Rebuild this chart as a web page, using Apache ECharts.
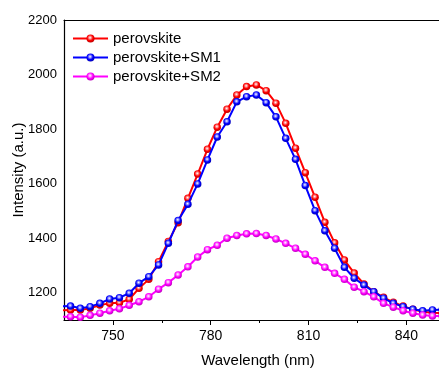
<!DOCTYPE html>
<html>
<head>
<meta charset="utf-8">
<script src="https://cdn.jsdelivr.net/npm/echarts@6/dist/echarts.min.js"></script>
<style>
html,body{margin:0;padding:0;background:#fff;}
#chart{width:439px;height:371px;}
</style>
</head>
<body>
<div id="chart"></div>
<script>
var wavelength = [734,737,740,743,746,749,752,755,758,761,764,767,770,773,776,779,782,785,788,791,794,797,800,803,806,809,812,815,818,821,824,827,830,833,836,839,842,845,848,851];
var perovskite = [1135,1137,1137,1143,1155,1161,1163,1176,1216,1249,1314,1388,1457,1546,1635,1726,1807,1873,1925,1956,1962,1941,1895,1821,1730,1640,1550,1458,1383,1320,1272,1232,1204,1183,1165,1151,1139,1130,1127,1125];
var perovskiteSM1 = [1150,1151,1143,1149,1161,1177,1182,1198,1235,1259,1302,1381,1465,1524,1599,1687,1771,1827,1900,1919,1925,1897,1845,1766,1689,1593,1501,1427,1363,1293,1253,1228,1204,1180,1161,1149,1139,1134,1137,1138];
var perovskiteSM2 = [1112,1112,1110,1117,1125,1134,1141,1154,1167,1185,1213,1237,1265,1295,1331,1358,1374,1400,1410,1416,1417,1410,1397,1381,1363,1341,1317,1293,1271,1249,1220,1204,1185,1161,1147,1134,1125,1118,1115,1114];
var seriesNames = ['perovskite','perovskite+SM1','perovskite+SM2'];
var xTicks = [750,780,810,840];
var xMinorTicks = [765,795,825];
var yTicks = [1200,1400,1600,1800,2000,2200];

var colors = ['#ff0000','#0000ff','#ff00ff'];
var darks = ['#b00000','#0000a8','#b000b0'];
var lights = ['#ff9a9a','#9a9aff','#ff9aff'];

function ball(i){
  return new echarts.graphic.RadialGradient(0.45,0.4,0.65,[
    {offset:0,color:'#ffffff'},
    {offset:0.22,color:lights[i]},
    {offset:0.55,color:colors[i]},
    {offset:1,color:darks[i]}
  ]);
}
function pairs(arr){
  return wavelength.map(function(w,k){return [w,arr[k]];});
}
var allData = [perovskite, perovskiteSM1, perovskiteSM2];
var series = allData.map(function(arr,i){
  return {
    name: seriesNames[i],
    type:'line',
    xAxisIndex:0,
    data: pairs(arr),
    symbol:'circle',
    symbolSize:7.5,
    showAllSymbol:true,
    lineStyle:{color:colors[i],width:2},
    itemStyle:{color:ball(i)},
    emphasis:{disabled:true},
    animation:false,
    z:2+i
  };
});

var font = 'Liberation Sans, Arial, sans-serif';
var chart = echarts.init(document.getElementById('chart'));
chart.setOption({
  animation:false,
  color:colors,
  grid:{left:64,right:-13,top:20,bottom:51,containLabel:false,outerBoundsMode:'none'},
  legend:{
    data: seriesNames,
    orient:'vertical',
    left:67,
    top:26,
    itemWidth:35,
    itemHeight:10,
    itemGap:4,
    textStyle:{fontFamily:font,fontSize:15,color:'#000'}
  },
  xAxis:[
    {
      type:'value',min:735,max:854,position:'bottom',
      name:'Wavelength (nm)',nameLocation:'middle',nameGap:33,nameMoveOverlap:false,
      nameTextStyle:{fontFamily:font,fontSize:15,color:'#000'},
      axisLine:{show:true,lineStyle:{color:'#000',width:1.2}},
      axisTick:{show:true,inside:false,length:5,customValues:xTicks,lineStyle:{color:'#000',width:1}},
      axisLabel:{show:true,customValues:xTicks,margin:9,fontFamily:font,fontSize:14,color:'#000',formatter:function(v){return String(v);}},
      splitLine:{show:false}
    },
    {
      type:'value',min:735,max:854,position:'bottom',
      axisLine:{show:false},
      axisTick:{show:true,inside:false,length:3,customValues:xMinorTicks,lineStyle:{color:'#000',width:1}},
      axisLabel:{show:false},
      splitLine:{show:false}
    },
    {
      type:'value',min:735,max:854,position:'top',
      axisLine:{show:true,lineStyle:{color:'#000',width:1}},
      axisTick:{show:false},
      axisLabel:{show:false},
      splitLine:{show:false}
    }
  ],
  yAxis:{
    type:'value',min:1100,max:2200,
    name:'Intensity (a.u.)',nameLocation:'middle',nameGap:38,nameRotate:90,nameMoveOverlap:false,
    nameTextStyle:{fontFamily:font,fontSize:15,color:'#000'},
    axisLine:{show:true,lineStyle:{color:'#000',width:1.2}},
    axisTick:{show:false,customValues:yTicks},
    axisLabel:{show:true,customValues:yTicks,margin:7,fontFamily:font,fontSize:13,color:'#000',formatter:function(v){return String(v);}},
    splitLine:{show:false}
  },
  series:series
});
</script>
</body>
</html>
